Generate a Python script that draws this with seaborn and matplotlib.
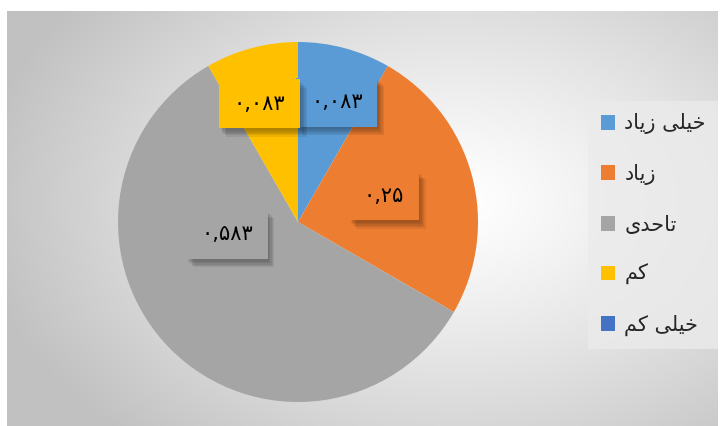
import numpy as np
import matplotlib
matplotlib.use("Agg")
import matplotlib.pyplot as plt
import matplotlib.patheffects as pe
import seaborn as sns

# data
categories = ["خیلی زیاد", "زیاد", "تاحدی", "کم", "خیلی کم"]
values = [0.083, 0.25, 0.583, 0.083, 0.0]
colors = ["#5B9BD5", "#ED7D31", "#A5A5A5", "#FFC000", "#4472C4"]

# label placement (radius, angle shift in degrees) per slice
label_r = [0.70, 0.50, 0.40, 0.69, 0.6]
label_shift = [-3, 2, -35, 3, 0]

# --- simple Persian shaping (matplotlib has no RTL / joining support) ---
FORMS = {  # isolated, final, initial, medial
    "ا": ("\uFE8D", "\uFE8E", None, None),
    "د": ("\uFEA9", "\uFEAA", None, None),
    "ز": ("\uFEAF", "\uFEB0", None, None),
    "ت": ("\uFE95", "\uFE96", "\uFE97", "\uFE98"),
    "ح": ("\uFEA1", "\uFEA2", "\uFEA3", "\uFEA4"),
    "خ": ("\uFEA5", "\uFEA6", "\uFEA7", "\uFEA8"),
    "ل": ("\uFEDD", "\uFEDE", "\uFEDF", "\uFEE0"),
    "م": ("\uFEE1", "\uFEE2", "\uFEE3", "\uFEE4"),
    "ی": ("\uFBFC", "\uFBFD", "\uFBFE", "\uFBFF"),
    "ک": ("\uFB8E", "\uFB8F", "\uFB90", "\uFB91"),
}


def shape(txt):
    out = []
    for i, ch in enumerate(txt):
        if ch not in FORMS:
            out.append(ch)
            continue
        prev = txt[i - 1] if i > 0 else ""
        nxt = txt[i + 1] if i + 1 < len(txt) else ""
        jp = prev in FORMS and FORMS[prev][2] is not None
        jn = FORMS[ch][2] is not None and nxt in FORMS
        f = FORMS[ch]
        if jp and jn:
            out.append(f[3])
        elif jp:
            out.append(f[1])
        elif jn:
            out.append(f[2])
        else:
            out.append(f[0])
    return "".join(out[::-1])


def fa_num(v):
    s = f"{v:g}".replace(".", ",")
    return s.translate(str.maketrans("0123456789", "۰۱۲۳۴۵۶۷۸۹"))


sns.set_theme(style="white")
plt.rcParams["font.family"] = ["DejaVu Sans"]

W, H = 722, 426
fig = plt.figure(figsize=(W / 100, H / 100), dpi=100)
fig.patch.set_facecolor("white")

# radial gradient background of the chart area
bg = fig.add_axes([7 / W, 0, (W - 4 - 7) / W, (H - 11) / H])
bg.set_axis_off()
yy, xx = np.mgrid[0:415, 0:711]
cx, cy = 450, 190
r = np.sqrt(((xx - cx) / 480) ** 2 + ((yy - cy) / 320) ** 2)
r = np.clip(r, 0, 1)
g = 1.0 - (1.0 - 0.76) * r ** 1.2
bg.imshow(np.dstack([g, g, g]), aspect="auto", interpolation="bilinear")

# pie
ax = fig.add_axes([118 / W, 24 / H, 360 / W, 360 / H])
wedges, _ = ax.pie(values, colors=colors, startangle=90, counterclock=False,
                   wedgeprops=dict(linewidth=0))
ax.set_xlim(-1, 1)
ax.set_ylim(-1, 1)
ax.set_aspect("equal")
ax.patch.set_alpha(0)

# soft shadow made of a few faint offset copies
soft = [pe.withSimplePatchShadow(offset=(dx, -dy), shadow_rgbFace="black", alpha=0.07)
        for dx, dy in [(1, 2), (2, 3), (3, 4), (4, 5), (5, 6)]]

for w, v, c, rr, sh in zip(wedges, values, colors, label_r, label_shift):
    if v == 0:
        continue
    ang = np.deg2rad((w.theta1 + w.theta2) / 2 + sh)
    t = ax.text(rr * np.cos(ang), rr * np.sin(ang), fa_num(v),
                ha="center", va="center", fontsize=15, color="black",
                bbox=dict(boxstyle="square,pad=0.7", facecolor=c, edgecolor="none"))
    t.get_bbox_patch().set_path_effects(soft + [pe.Normal()])

leg = fig.legend(wedges, [shape(c) for c in categories],
                 loc="upper left", bbox_to_anchor=(588 / W, 1 - 101 / H),
                 fontsize=15, frameon=True, fancybox=False,
                 handlelength=0.7, handleheight=0.7, handletextpad=0.45,
                 labelspacing=1.42, borderpad=0.6, borderaxespad=0)
leg.get_frame().set_facecolor("#EBEBEB")
leg.get_frame().set_edgecolor("none")

fig.savefig("out.png", dpi=100)
